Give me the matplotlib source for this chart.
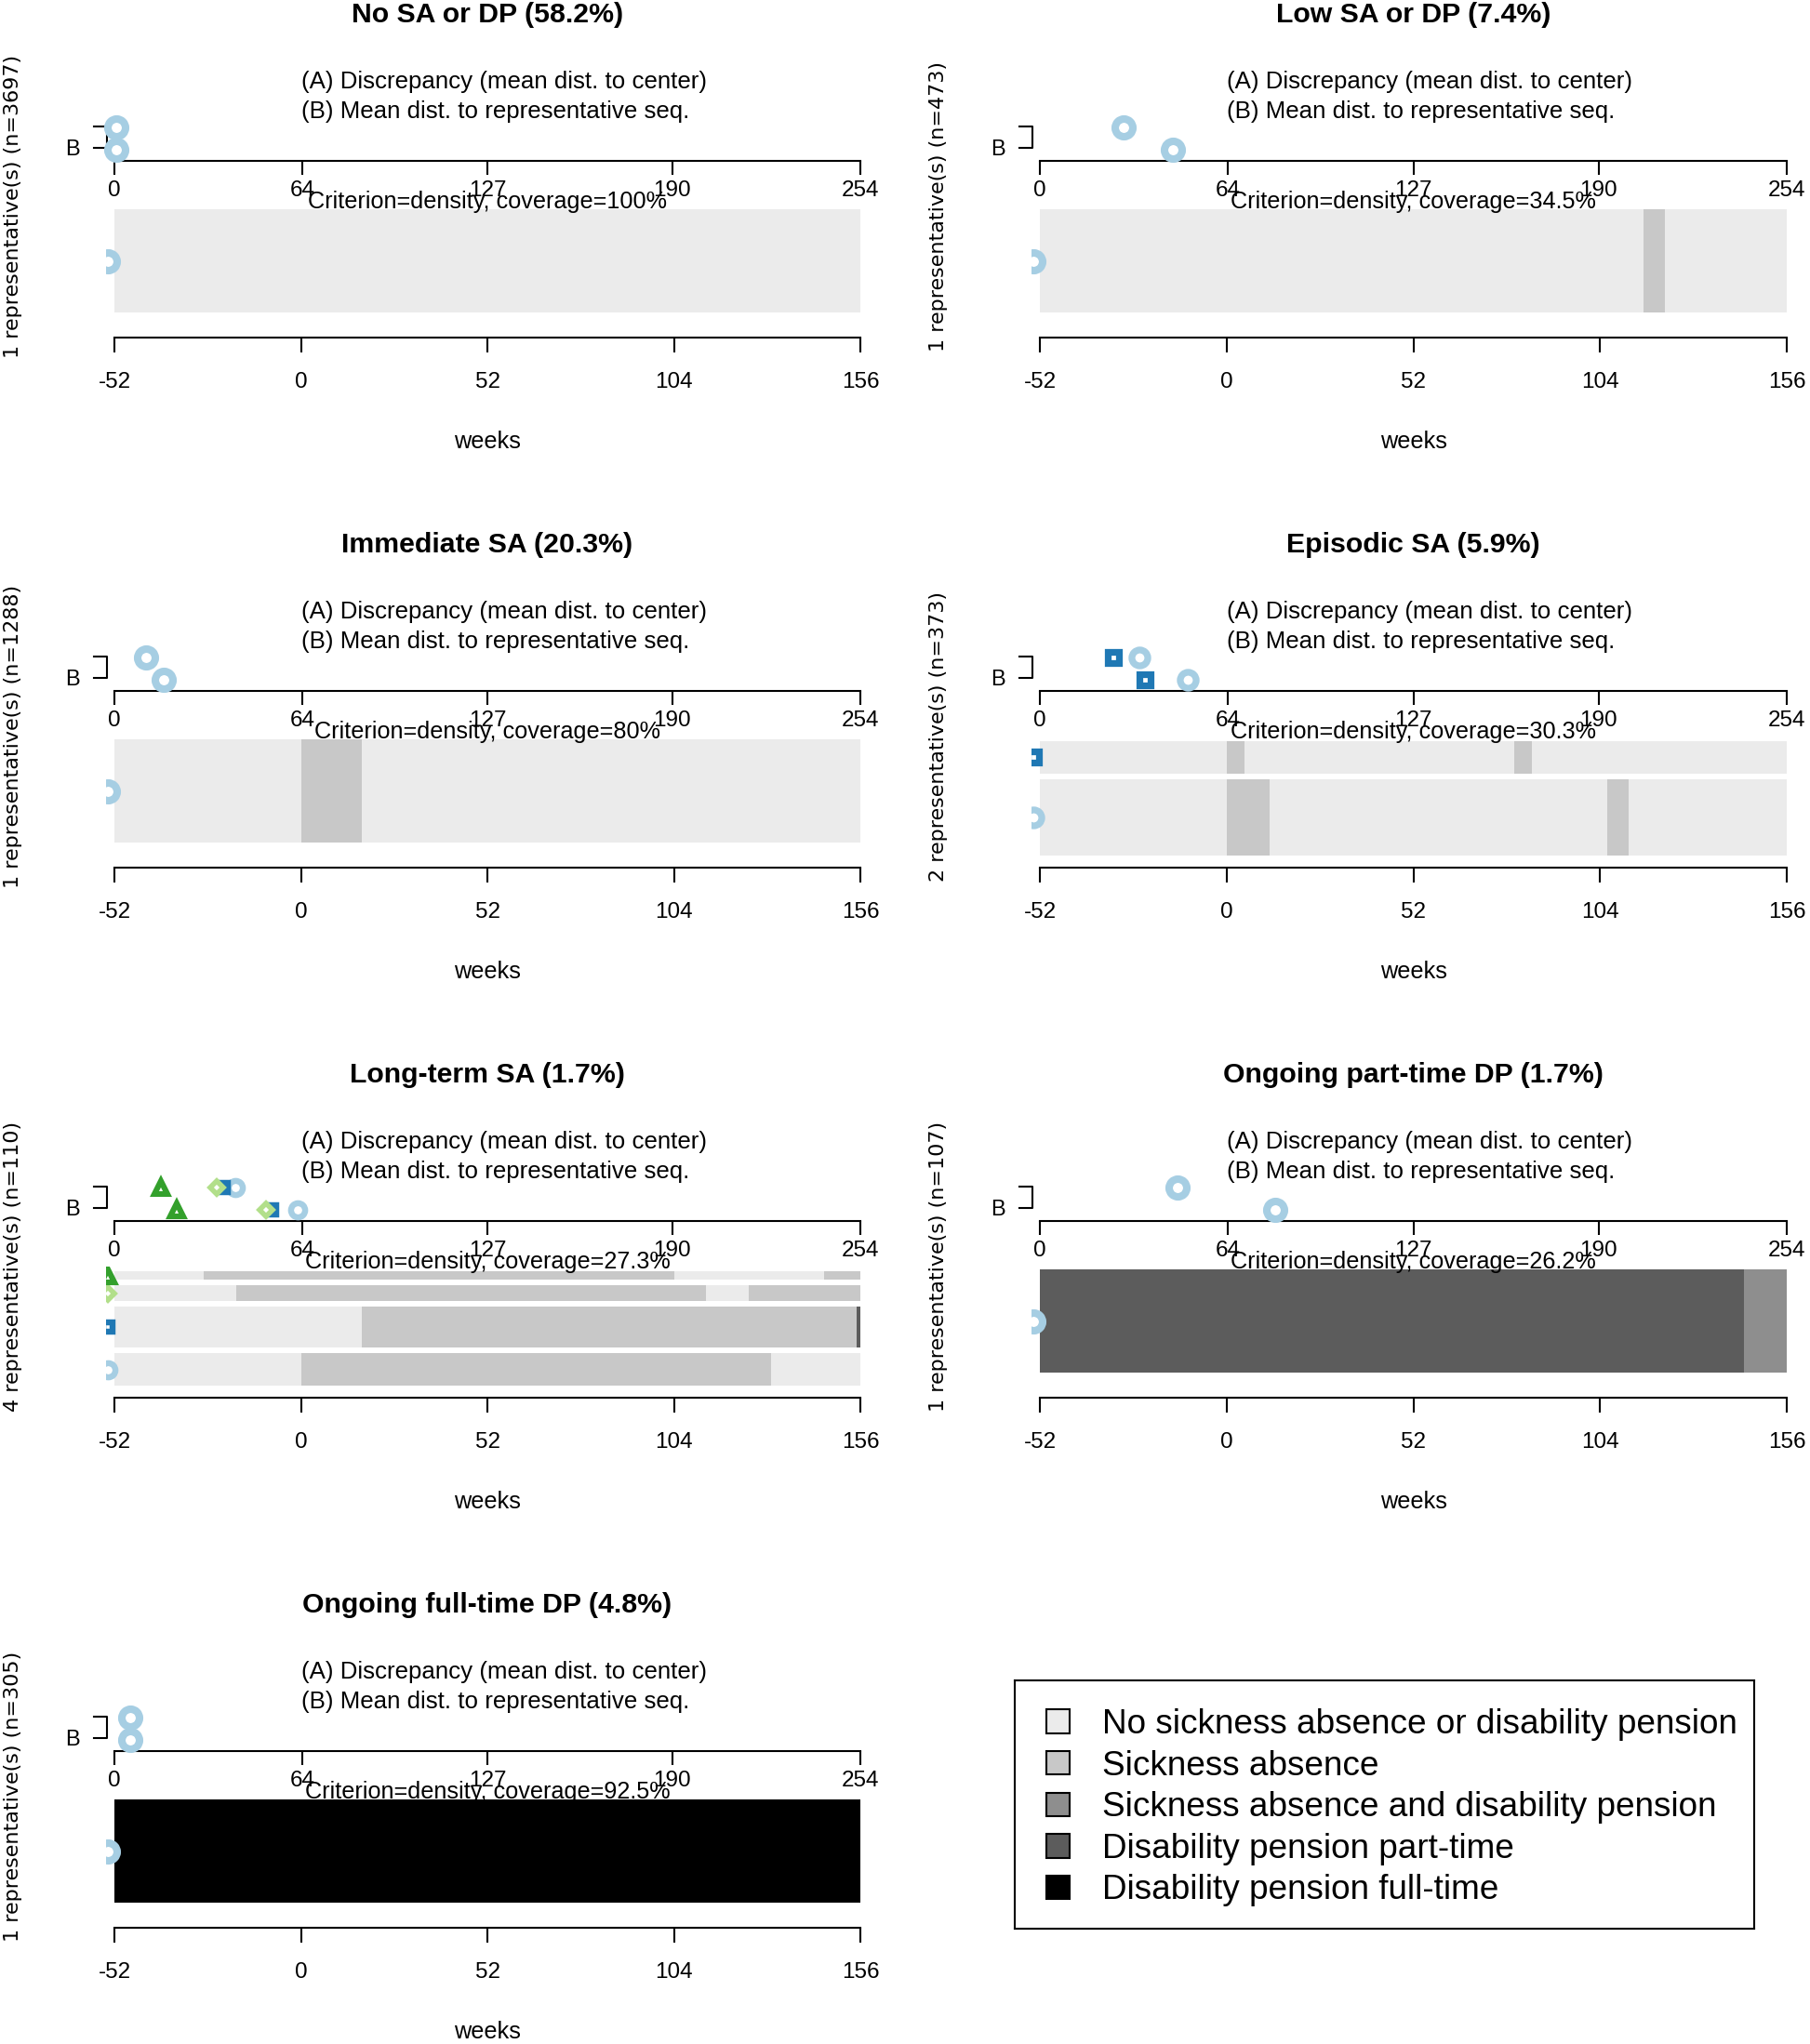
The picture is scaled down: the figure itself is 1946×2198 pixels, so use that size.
import matplotlib
matplotlib.use("Agg")
import matplotlib.pyplot as plt
from matplotlib.patches import Patch, Rectangle

plt.rcParams['font.family'] = ['Liberation Sans', 'DejaVu Sans']
plt.rcParams['axes.unicode_minus'] = False

W, H, DPI = 1946, 2198, 100

# --- data ---
state_names = ["No sickness absence or disability pension", "Sickness absence",
               "Sickness absence and disability pension", "Disability pension part-time",
               "Disability pension full-time"]
state_colors = ["#EBEBEB", "#C8C8C8", "#8E8E8E", "#5C5C5C", "#000000"]

rep_markers = ['o', 's', 'D', '^']
rep_colors = ["#A6CEE3", "#1F78B4", "#B2DF8A", "#33A02C"]

titles = ["No SA or DP (58.2%)", "Low SA or DP (7.4%)", "Immediate SA (20.3%)",
          "Episodic SA (5.9%)", "Long-term SA (1.7%)", "Ongoing part-time DP (1.7%)",
          "Ongoing full-time DP (4.8%)"]
n_cluster = [3697, 473, 1288, 373, 110, 107, 305]
coverage = ["100%", "34.5%", "80%", "30.3%", "27.3%", "26.2%", "92.5%"]

# representative sequences, rep 1 first (rep 1 = bottom bar): (state, from week, to week)
seq_no_sa = [[(0, -52, 156)]]
seq_low_sa = [[(0, -52, 116), (1, 116, 122), (0, 122, 156)]]
seq_immediate = [[(0, -52, 0), (1, 0, 17), (0, 17, 156)]]
seq_episodic = [
    [(0, -52, 0), (1, 0, 12), (0, 12, 106), (1, 106, 112), (0, 112, 156)],
    [(0, -52, 0), (1, 0, 5), (0, 5, 80), (1, 80, 85), (0, 85, 156)],
]
seq_longterm = [
    [(0, -52, 0), (1, 0, 131), (0, 131, 156)],
    [(0, -52, 17), (1, 17, 155), (3, 155, 156)],
    [(0, -52, -18), (1, -18, 113), (0, 113, 125), (1, 125, 156)],
    [(0, -52, -27), (1, -27, 104), (0, 104, 146), (1, 146, 156)],
]
seq_parttime = [[(3, -52, 144), (2, 144, 156)]]
seq_fulltime = [[(4, -52, 156)]]
sequences = [seq_no_sa, seq_low_sa, seq_immediate, seq_episodic,
             seq_longterm, seq_parttime, seq_fulltime]

# relative bar heights of the representatives (rep 1 first)
rep_weight = [[1], [1], [1], [75, 32], [37, 47, 17, 10], [1], [1]]

# (A) discrepancy and (B) mean distance per representative, rep 1 first
dist_a = [[0.6], [28.4], [10.8], [33.9, 24.9], [41.3, 36.9, 34.8, 15.7], [46.7], [5.5]]
dist_b = [[0.6], [45.1], [16.7], [50.4, 35.9], [62.3, 53.4, 51.7, 21.2], [80.0], [5.5]]

dist_ticks = [0, 64, 127, 190, 254]
week_ticks = [-52, 0, 52, 104, 156]

# --- layout (pixels) ---
cols = [(123, 925), (1118, 1921)]
row_top = [16, 586, 1156, 1726]
BASE = 18.2
marker_size = {'o': (13.7, 5.8), 's': (9.5, 5.8), 'D': (9.5, 5.0), '^': (12.5, 5.5)}
marker_scale = {1: 1.0, 2: 0.9, 4: 0.8}

fig = plt.figure(figsize=(W / DPI, H / DPI), dpi=DPI)


def fx(x):
    return x / W


def fy(y):
    return 1 - y / H


def add_ax(x0, x1, y_top, y_bot):
    return fig.add_axes([fx(x0), fy(y_bot), (x1 - x0) / W, (y_bot - y_top) / H])


def bar_layout(weights):
    if len(weights) == 1:
        return [(3, 114)]
    top, bot, gap = 5, 128, 6
    avail = bot - top - gap * (len(weights) - 1)
    tot = sum(weights)
    out = []
    y = bot
    for w in weights:  # rep 1 at bottom
        h = avail * w / tot
        out.append((y - h, y))
        y = y - h - gap
    return out


def mstyle(r, k):
    m = rep_markers[r]
    ms, mew = marker_size[m]
    sc = marker_scale[k]
    return dict(marker=m, color=rep_colors[r], mfc='white', ms=ms * sc, mew=mew * sc,
                linestyle='none', zorder=5)


for i, title in enumerate(titles):
    row, col = divmod(i, 2)
    t = row_top[row]
    xl, xr = cols[col]
    xc = (xl + xr) / 2
    k = len(sequences[i])

    fig.text(fx(xc), fy(t), title, ha='center', va='center', fontsize=21.8, fontweight='bold')
    fig.text(fx(xl + 201), fy(t + 72), "(A) Discrepancy (mean dist. to center)",
             ha='left', va='center', fontsize=18.6)
    fig.text(fx(xl + 201), fy(t + 104), "(B) Mean dist. to representative seq.",
             ha='left', va='center', fontsize=18.6)

    # distance plot
    axd = add_ax(xl, xr, t + 110, t + 157)
    axd.set_xlim(0, 254)
    axd.set_ylim(0.5, 2.46)
    axd.patch.set_alpha(0)
    for s in ['top', 'left', 'right']:
        axd.spines[s].set_visible(False)
    axd.spines['bottom'].set_linewidth(1.5)
    axd.set_xticks(dist_ticks)
    axd.set_yticks([])
    axd.tick_params(axis='x', direction='out', length=11, width=1.5, pad=4, labelsize=17.5)
    for r in range(k):
        axd.plot(dist_a[i][r], 2, clip_on=False, **mstyle(r, k))
        axd.plot(dist_b[i][r], 1, clip_on=False, **mstyle(r, k))
    axd.plot([-0.027, -0.01, -0.01, -0.027], [2.04, 2.04, 1.08, 1.08],
             transform=axd.get_yaxis_transform(), color='black', lw=1.5, clip_on=False)
    axd.text(-0.056, 1.0, "B", transform=axd.get_yaxis_transform(),
             ha='center', va='center', fontsize=17)

    fig.text(fx(xc), fy(t + 201), "Criterion=density, coverage=" + coverage[i],
             ha='center', va='center', fontsize=BASE)

    # representative sequences
    axs = add_ax(xl, xr, t + 206, t + 338)
    axs.set_xlim(-52, 156)
    axs.set_ylim(132, 0)
    axs.patch.set_alpha(0)
    for s in ['top', 'left', 'right']:
        axs.spines[s].set_visible(False)
    axs.spines['bottom'].set_position(('outward', 6.5))
    axs.spines['bottom'].set_bounds(-52, 156)
    axs.spines['bottom'].set_linewidth(1.5)
    axs.set_xticks(week_ticks)
    axs.set_yticks([])
    axs.tick_params(axis='x', direction='out', length=11.5, width=1.5, pad=15, labelsize=17.5)
    clip = Rectangle((-54.3, 0), 212, 132, transform=axs.transData)
    for r, (y0, y1) in enumerate(bar_layout(rep_weight[i])):
        for st, a, b in sequences[i][r]:
            axs.barh((y0 + y1) / 2, b - a, left=a, height=y1 - y0,
                     color=state_colors[st], linewidth=0)
        ln, = axs.plot(-53.8, (y0 + y1) / 2, clip_on=True, **mstyle(r, k))
        ln.set_clip_path(clip)

    fig.text(fx(xc), fy(t + 459), "weeks", ha='center', va='center', fontsize=BASE)
    fig.text(fx(xl - 109), fy(t + 206), f"{k} representative(s) (n={n_cluster[i]})",
             rotation=90, ha='center', va='center', fontsize=16, family='DejaVu Sans')

# legend
axl = add_ax(1091, 1886, 1807, 2074)
axl.set_xticks([])
axl.set_yticks([])
for s in axl.spines.values():
    s.set_linewidth(1.5)
handles = [Patch(facecolor=c, edgecolor='black', linewidth=1.5) for c in state_colors]
axl.legend(handles, state_names, loc='upper left', frameon=False, fontsize=26.6,
           bbox_to_anchor=(33.5 / 795, 1 - 30 / 267), borderpad=0, borderaxespad=0,
           handlelength=0.68, handleheight=0.68, handletextpad=0.96, labelspacing=0.26)

fig.savefig("out.png", dpi=DPI)
